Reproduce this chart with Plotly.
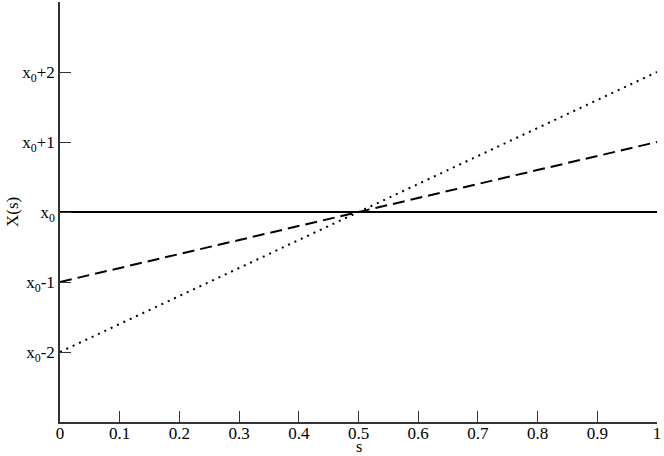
import plotly.graph_objects as go

s_vals = [0, 1]
solid_vals = [0, 0]
dashed_vals = [-1, 1]
dotted_vals = [-2, 2]

x_ticks = [0, 0.1, 0.2, 0.3, 0.4, 0.5, 0.6, 0.7, 0.8, 0.9, 1]
x_labels = ["0", "0.1", "0.2", "0.3", "0.4", "0.5", "0.6", "0.7", "0.8", "0.9", "1"]
y_ticks = [-2, -1, 0, 1, 2]
y_labels = ["x<sub>0</sub>-2", "x<sub>0</sub>-1", "x<sub>0</sub>",
            "x<sub>0</sub>+1", "x<sub>0</sub>+2"]

fig = go.Figure()
fig.add_trace(go.Scatter(x=s_vals, y=solid_vals, mode="lines",
                         line=dict(color="black", width=2)))
fig.add_trace(go.Scatter(x=s_vals, y=dashed_vals, mode="lines",
                         line=dict(color="black", width=2, dash="12px,6px")))
fig.add_trace(go.Scatter(x=s_vals, y=dotted_vals, mode="lines",
                         line=dict(color="black", width=2, dash="2px,5px")))

font = dict(family="Liberation Serif", size=17, color="black")
sfont = dict(family="Liberation Serif", size=16, color="black")
fig.update_layout(
    width=664, height=456,
    margin=dict(l=60, r=7, t=2, b=34, autoexpand=False),
    paper_bgcolor="white", plot_bgcolor="white",
    showlegend=False,
    font=font,
    xaxis=dict(range=[0, 1], tickvals=x_ticks, ticktext=x_labels,
               ticks="inside", ticklen=11, tickwidth=1, tickcolor="#333",
               showline=True, linecolor="#333", linewidth=1.5,
               showgrid=False, zeroline=False, automargin=False,
               ticklabelstandoff=-5, tickfont=font),
    yaxis=dict(range=[-3, 3], tickvals=y_ticks, ticktext=y_labels,
               ticks="inside", ticklen=11, tickwidth=1, tickcolor="#333",
               showline=True, linecolor="#333", linewidth=1.5,
               showgrid=False, zeroline=False, automargin=False,
               tickfont=font),
    annotations=[
        dict(text="s", xref="paper", yref="paper", x=0.5, y=0,
             xanchor="center", yanchor="middle", yshift=-24,
             showarrow=False, font=sfont),
        dict(text="X(s)", xref="paper", yref="paper", x=0, y=0.5,
             xanchor="center", yanchor="middle", xshift=-48, textangle=-90,
             showarrow=False, font=font),
    ],
)
fig.write_html("out.html", config={"displayModeBar": False},
               post_script="document.body.style.margin='0';document.body.style.overflow='hidden';")
